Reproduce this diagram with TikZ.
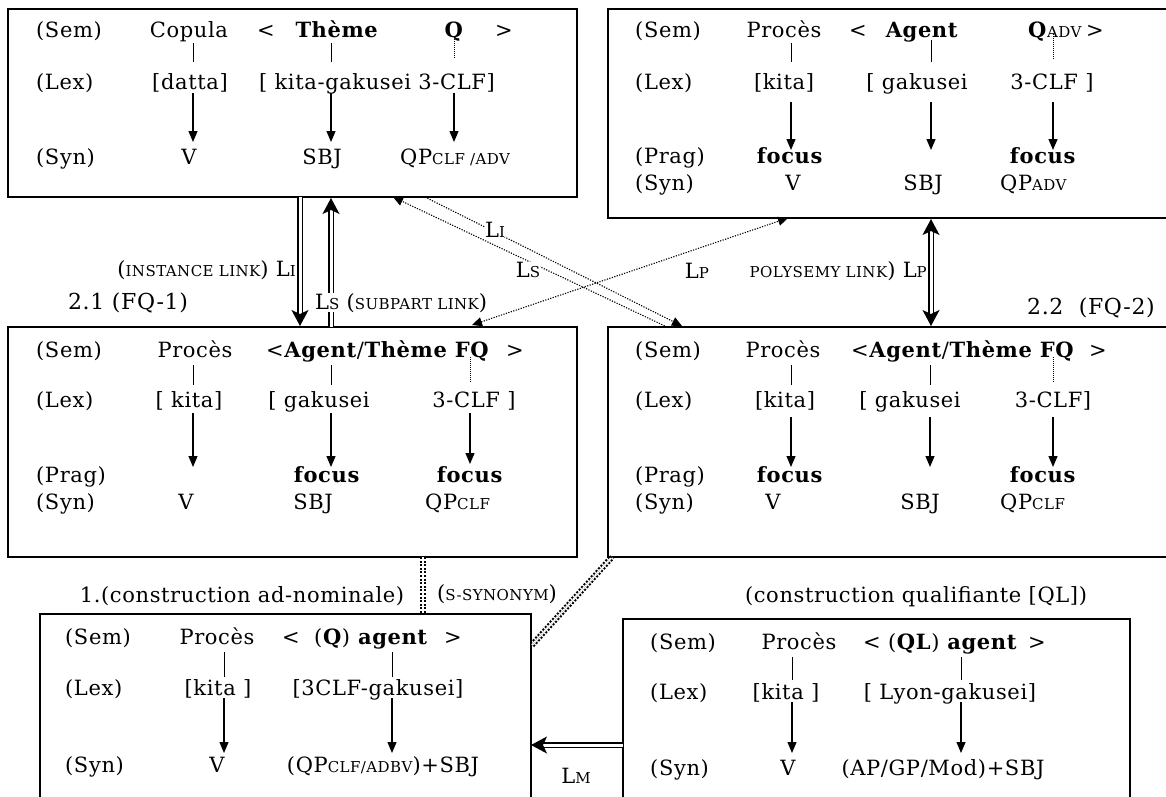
\documentclass[tikz,border=0pt]{standalone}
\usepackage{fontspec}
\setmainfont{DejaVu Serif}
\newfontfamily\spaced[LetterSpace=3]{DejaVu Serif}
\usetikzlibrary{arrows.meta}
\newcommand\mysc[1]{{\fontsize{15}{17}\selectfont #1}}
\begin{document}
\begin{tikzpicture}[x=1pt,y=-1pt,
  t/.style={inner sep=0pt, anchor=base, font=\spaced\fontsize{21}{24}\selectfont},
  tw/.style={t, anchor=base west},
  te/.style={t, anchor=base east},
  big/.style={t, font=\spaced\fontsize{22}{26}\selectfont},
  box/.style={draw, line width=1.3pt, inner sep=0pt},
  lbox/.style={draw, line width=1.1pt, inner sep=0pt},
  tie/.style={line width=1pt},
  qtie/.style={line width=1pt, dash pattern=on 1pt off 1pt},
  down/.style={line width=1.2pt, -{Triangle[length=11pt,width=9pt]}},
  dbl/.style={double, double distance=3pt, line width=1.1pt},
  dtip/.style={-{Stealth[length=16pt,width=17pt,inset=4pt]}},
  dtipb/.style={{Stealth[length=16pt,width=17pt,inset=4pt]}-{Stealth[length=16pt,width=17pt,inset=4pt]}},
  dotl/.style={line width=1.1pt, dash pattern=on 1.2pt off 1.4pt},
  ttip/.style={-{Triangle[length=10pt,width=9pt]}},
  ttipb/.style={{Triangle[length=10pt,width=9pt]}-{Triangle[length=10pt,width=9pt]}},
  syn/.style={double, double distance=2pt, line width=2pt, dash pattern=on 2pt off 1.6pt},
  wb/.style={fill=white}
]
\useasboundingbox (0,0) rectangle (1166,796);
\clip (0,0) rectangle (1166,796);

% ---------- boxes ----------
\node[box, minimum width=569pt, minimum height=188pt] (box1) at (292.5,103) {};
\node[box, minimum width=572pt, minimum height=209pt] (box2) at (894,113.5) {};
\node[box, minimum width=569pt, minimum height=230pt] (box3) at (292.5,442) {};
\node[box, minimum width=572pt, minimum height=230pt] (box4) at (894,442) {};
\node[lbox, minimum width=491pt, minimum height=196pt] (box5) at (285.5,712) {};
\node[lbox, minimum width=507pt, minimum height=191pt] (box6) at (876.5,714.5) {};

% ---------- box 1 ----------
\node[tw] (b1sem) at (36,37) {(Sem)};
\node[t] (b1cop) at (189,37) {Copula};
\node[t] (b1lt) at (266,37) {<};
\node[t] (b1th) at (337,37) {\textbf{Thème}};
\node[t] (b1q) at (454,37) {\textbf{Q}};
\node[t] (b1gt) at (504,37) {>};
\node[tw] (b1lex) at (36,89) {(Lex)};
\node[t] (b1datta) at (190,89) {[datta]};
\node[t] (b1kg) at (377,89) {[ kita-gakusei 3-CLF]};
\node[tw] (b1syn) at (36,164) {(Syn)};
\node[t] (b1v) at (189,164) {V};
\node[t] (b1sbj) at (322,164) {SBJ};
\node[tw] (b1qp) at (400,164) {QP\mysc{CLF /ADV}};

% ---------- box 2 ----------
\node[tw] (b2sem) at (635,37) {(Sem)};
\node[t] (b2pr) at (784,37) {Procès};
\node[t] (b2lt) at (858,37) {<};
\node[t] (b2ag) at (922,37) {\textbf{Agent}};
\node[tw] (b2q) at (1028,37) {\textbf{Q}\mysc{ADV}};
\node[t] (b2gt) at (1095,37) {>};
\node[tw] (b2lex) at (635,89) {(Lex)};
\node[t] (b2kita) at (784,89) {[kita]};
\node[t] (b2gak) at (917,89) {[ gakusei};
\node[t] (b2clf) at (1052,89) {3-CLF ]};
\node[tw] (b2prag) at (635,163) {(Prag)};
\node[t] (b2f1) at (790,163) {\textbf{focus}};
\node[t] (b2f2) at (1043,163) {\textbf{focus}};
\node[tw] (b2syn) at (635,190) {(Syn)};
\node[t] (b2v) at (793,190) {V};
\node[t] (b2sbj) at (923,190) {SBJ};
\node[tw] (b2qp) at (1000,190) {QP\mysc{ADV}};

% ---------- box 3 ----------
\node[tw] (b3sem) at (36,357) {(Sem)};
\node[t] (b3pr) at (195,357) {Procès};
\node[tw] (b3ag) at (266,357) {<\textbf{Agent}/\textbf{Thème FQ}};
\node[t] (b3gt) at (515,357) {>};
\node[tw] (b3lex) at (36,407) {(Lex)};
\node[t] (b3kita) at (189,407) {[ kita]};
\node[t] (b3gak) at (319,407) {[ gakusei};
\node[t] (b3clf) at (474,407) {3-CLF ]};
\node[tw] (b3prag) at (36,482) {(Prag)};
\node[t] (b3f1) at (327,482) {\textbf{focus}};
\node[t] (b3f2) at (470,482) {\textbf{focus}};
\node[tw] (b3syn) at (36,509) {(Syn)};
\node[t] (b3v) at (186,509) {V};
\node[t] (b3sbj) at (313,509) {SBJ};
\node[tw] (b3qp) at (425,509) {QP\mysc{CLF}};

% ---------- box 4 ----------
\node[tw] (b4sem) at (635,357) {(Sem)};
\node[t] (b4pr) at (783,357) {Procès};
\node[tw] (b4ag) at (851,357) {<\textbf{Agent}/\textbf{Thème FQ}};
\node[t] (b4gt) at (1098,357) {>};
\node[tw] (b4lex) at (635,407) {(Lex)};
\node[t] (b4kita) at (785,407) {[kita]};
\node[t] (b4gak) at (910,407) {[ gakusei};
\node[t] (b4clf) at (1053,407) {3-CLF]};
\node[tw] (b4prag) at (635,482) {(Prag)};
\node[t] (b4f1) at (790,482) {\textbf{focus}};
\node[t] (b4f2) at (1043,482) {\textbf{focus}};
\node[tw] (b4syn) at (635,509) {(Syn)};
\node[t] (b4v) at (773,509) {V};
\node[t] (b4sbj) at (920,509) {SBJ};
\node[tw] (b4qp) at (1000,509) {QP\mysc{CLF}};

% ---------- box 5 ----------
\node[tw] (b5sem) at (65,644) {(Sem)};
\node[t] (b5pr) at (217,644) {Procès};
\node[t] (b5lt) at (291,644) {<};
\node[t] (b5ag) at (371,644) {(\textbf{Q}) \textbf{agent}};
\node[t] (b5gt) at (453,644) {>};
\node[tw] (b5lex) at (65,695) {(Lex)};
\node[t] (b5kita) at (218,695) {[kita ]};
\node[t] (b5gak) at (378,695) {[3CLF-gakusei]};
\node[tw] (b5syn) at (65,772) {(Syn)};
\node[t] (b5v) at (217,772) {V};
\node[t] (b5qp) at (383,772) {(QP\mysc{CLF/ADBV})+SBJ};

% ---------- box 6 ----------
\node[tw] (b6sem) at (650,649) {(Sem)};
\node[t] (b6pr) at (799,649) {Procès};
\node[tw] (b6ag) at (863,649) {< (\textbf{QL}) \textbf{agent}};
\node[t] (b6gt) at (1037,649) {>};
\node[tw] (b6lex) at (650,699) {(Lex)};
\node[t] (b6kita) at (786,699) {[kita ]};
\node[t] (b6gak) at (950,699) {[ Lyon-gakusei]};
\node[tw] (b6syn) at (650,775) {(Syn)};
\node[t] (b6v) at (788,775) {V};
\node[t] (b6ap) at (943,775) {(AP/GP/Mod)+SBJ};

% ---------- ties inside boxes ----------
\foreach \n/\x/\ya/\yb in {t11/193/43/62, t12/331/43/62, t21/791/43/62, t22/931/40/62,
  t31/193/365/385, t32/331/365/385, t41/791/365/385, t42/930/365/385,
  t51/224/652/677, t52/392/652/677, t61/792/657/680, t62/961/657/680}
  {\coordinate (\n-a) at (\x,\ya); \coordinate (\n-b) at (\x,\yb); \draw[tie] (\n-a) -- (\n-b);}
\foreach \n/\x/\ya/\yb in {q1/454/37/58, q2/1053/34/60, q3/470/357/383, q4/1053/357/383}
  {\coordinate (\n-a) at (\x,\ya); \coordinate (\n-b) at (\x,\yb); \draw[qtie] (\n-a) -- (\n-b);}
\foreach \n/\x/\ya/\yb in {a11/193/93/142, a12/331/93/142, a13/454/93/142,
  a21/791/102/150, a22/931/102/150, a23/1053/102/150,
  a31/193/413/467, a32/331/413/467, a33/470/413/464,
  a41/791/417/467, a42/930/417/467, a43/1053/417/467,
  a51/224/698/753, a52/392/698/753, a61/792/702/753, a62/961/702/753}
  {\coordinate (\n-a) at (\x,\ya); \coordinate (\n-b) at (\x,\yb); \draw[down] (\n-a) -- (\n-b);}

% ---------- links ----------
\coordinate (inst1) at (300,197);  \coordinate (inst2) at (300,326);
\coordinate (sub1) at (331,327);   \coordinate (sub2) at (331,198);
\coordinate (li1) at (425,197);    \coordinate (li2) at (682,326);
\coordinate (ls1) at (667,327);    \coordinate (ls2) at (393,197);
\coordinate (lp1) at (472,325);    \coordinate (lp2) at (788,218);
\coordinate (pol1) at (931,219);   \coordinate (pol2) at (931,326);
\coordinate (ss1) at (423,557);    \coordinate (ss2) at (423,614);
\coordinate (sd1) at (532,645);    \coordinate (sd2) at (612,557);
\coordinate (lm1) at (623,745);    \coordinate (lm2) at (531,745);

\draw[dbl,dtip] (inst1) -- (inst2);
\draw[dbl,dtip] (sub1) -- (sub2);
\draw[dotl,ttip] (li1) -- (li2);
\draw[dotl,ttip] (ls1) -- (ls2);
\draw[dotl,ttipb] (lp1) -- (lp2);
\draw[dbl,dtipb] (pol1) -- (pol2);
\draw[syn] (ss1) -- (ss2);
\draw[syn] (sd1) -- (sd2);
\draw[dbl,dtip] (lm1) -- (lm2);

% ---------- labels ----------
\node[big] (l21) at (128,309) {2.1 (FQ-1)};
\node[te] (linst) at (296,276) {(\mysc{INSTANCE LINK}) L\mysc{I}};
\node[tw,wb] (lsub) at (315,309) {L\mysc{S} (\mysc{SUBPART LINK})};
\node[t,wb] (lli) at (495,237) {L\mysc{I}};
\node[t,wb] (lls) at (528,277) {L\mysc{S}};
\node[t] (llp) at (697,278) {L\mysc{P}};
\node[te] (lpol) at (927,277) {\mysc{POLYSEMY LINK}) L\mysc{P}};
\node[big] (l22) at (1091,314) {2.2\ \ (FQ-2)};
\node[t] (l1) at (242,602) {1.(construction ad-nominale)};
\node[t] (lsyn) at (497,600) {(\mysc{S-SYNONYM})};
\node[t] (lql) at (916,602) {(construction qualifiante [QL])};
\node[t] (llm) at (576,783) {L\mysc{M}};
\end{tikzpicture}
\end{document}
